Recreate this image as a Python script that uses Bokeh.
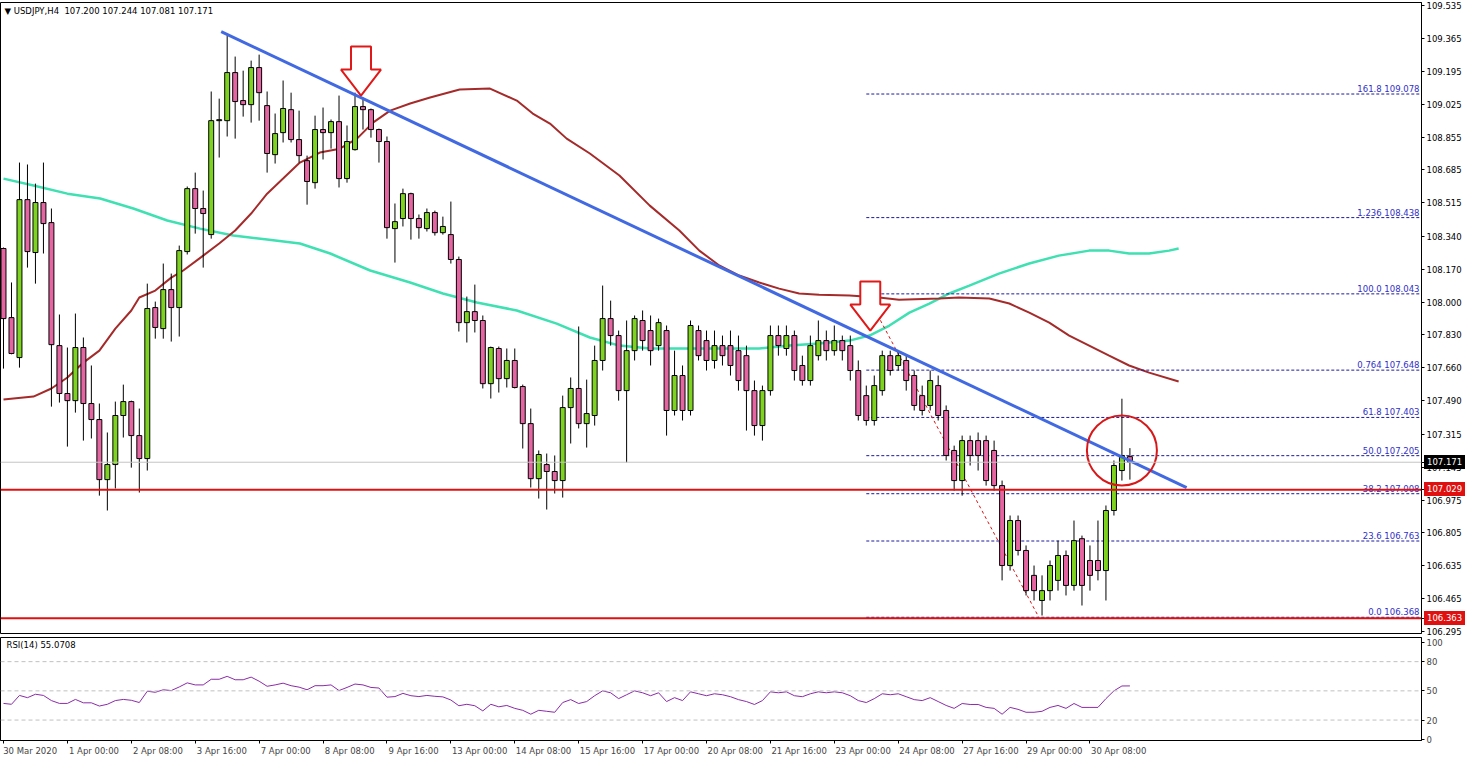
from bokeh.plotting import figure
from bokeh.layouts import column
from bokeh.models import (ColumnDataSource, Range1d, FixedTicker, PrintfTickFormatter,
                          CustomJSTickFormatter, Span, Label, Div)
from bokeh.embed import file_html
from bokeh.resources import INLINE
from bokeh.core.properties import value

# ---------------- data ----------------
symbol = "USDJPY,H4"
last_ohlc = ["107.200", "107.244", "107.081", "107.171"]

opens = [108.278, 107.920, 107.713, 108.531, 108.257, 108.516, 108.412, 107.775, 107.527, 107.490,
         107.765, 107.475, 107.392, 107.081, 107.159, 107.413, 107.485, 107.309, 107.190, 107.972,
         107.863, 108.065, 107.972, 108.262, 108.588, 108.485, 108.350, 108.940, 108.940, 109.189,
         109.044, 109.023, 109.215, 109.018, 108.764, 108.878, 108.997, 108.842, 108.733, 108.619,
         108.894, 108.878, 108.935, 108.640, 108.790, 109.013, 108.997, 108.894, 108.832, 108.381,
         108.433, 108.562, 108.433, 108.381, 108.464, 108.360, 108.350, 108.221, 107.894, 107.951,
         107.905, 107.578, 107.760, 107.604, 107.698, 107.563, 107.371, 107.086, 107.159, 107.123,
         107.076, 107.454, 107.553, 107.371, 107.413, 107.698, 107.915, 107.827, 107.542, 107.749,
         107.905, 107.853, 107.775, 107.853, 107.439, 107.620, 107.439, 107.853, 107.801, 107.698,
         107.775, 107.775, 107.749, 107.723, 107.542, 107.361, 107.542, 107.827, 107.760, 107.827,
         107.672, 107.594, 107.723, 107.801, 107.749, 107.801, 107.775, 107.646, 107.516, 107.387,
         107.542, 107.723, 107.672, 107.698, 107.620, 107.516, 107.465, 107.568, 107.439, 107.232,
         107.076, 107.283, 107.283, 107.283, 107.232, 107.050, 106.636, 106.869, 106.714, 106.585,
         106.455, 106.506, 106.559, 106.688, 106.533, 106.775, 106.662, 106.662, 106.610, 106.921,
         107.128, 107.200]
highs = [108.283, 108.102, 108.723, 108.713, 108.614, 108.723, 108.485, 107.936, 107.765, 107.941,
         107.817, 107.672, 107.475, 107.325, 107.485, 107.573, 107.490, 107.449, 108.096, 108.003,
         108.200, 108.148, 108.293, 108.599, 108.671, 108.578, 109.091, 109.054, 109.381, 109.272,
         109.199, 109.251, 109.282, 109.091, 108.977, 109.148, 109.085, 108.992, 108.759, 108.966,
         109.008, 108.946, 109.070, 108.915, 109.085, 109.060, 109.003, 108.899, 108.858, 108.511,
         108.588, 108.567, 108.454, 108.485, 108.474, 108.443, 108.521, 108.236, 108.029, 108.091,
         107.931, 107.770, 107.770, 107.760, 107.760, 107.573, 107.449, 107.232, 107.216, 107.206,
         107.516, 107.610, 107.874, 107.599, 107.775, 108.086, 108.008, 107.853, 107.905, 107.931,
         107.957, 107.931, 107.915, 107.879, 107.749, 107.672, 107.905, 107.879, 107.853, 107.853,
         107.827, 107.853, 107.827, 107.775, 107.594, 107.568, 107.879, 107.879, 107.879, 107.853,
         107.723, 107.827, 107.905, 107.853, 107.879, 107.827, 107.827, 107.698, 107.568, 107.620,
         107.749, 107.749, 107.749, 107.723, 107.646, 107.568, 107.646, 107.620, 107.465, 107.257,
         107.309, 107.309, 107.325, 107.309, 107.283, 107.076, 106.895, 106.895, 106.740, 106.636,
         106.585, 106.662, 106.765, 106.714, 106.869, 106.791, 106.740, 106.869, 106.947, 107.180,
         107.500, 107.244]
lows = [107.656, 107.730, 107.661, 108.179, 108.096, 108.252, 107.459, 107.480, 107.252, 107.428,
        107.283, 107.294, 106.998, 106.921, 107.035, 107.299, 107.143, 107.014, 107.128, 107.811,
        107.811, 107.796, 107.822, 108.247, 108.355, 108.179, 108.329, 108.749, 108.858, 108.847,
        108.961, 108.930, 108.940, 108.671, 108.718, 108.827, 108.827, 108.723, 108.505, 108.588,
        108.739, 108.795, 108.594, 108.619, 108.785, 108.894, 108.852, 108.723, 108.329, 108.205,
        108.392, 108.324, 108.329, 108.366, 108.345, 108.350, 108.200, 107.848, 107.791, 107.843,
        107.553, 107.501, 107.532, 107.558, 107.553, 107.242, 107.040, 106.983, 106.926, 107.009,
        106.988, 107.268, 107.346, 107.247, 107.361, 107.646, 107.775, 107.490, 107.170, 107.698,
        107.749, 107.672, 107.749, 107.309, 107.413, 107.387, 107.413, 107.698, 107.646, 107.656,
        107.672, 107.620, 107.542, 107.335, 107.309, 107.283, 107.516, 107.723, 107.723, 107.594,
        107.568, 107.568, 107.698, 107.698, 107.723, 107.698, 107.594, 107.387, 107.361, 107.361,
        107.516, 107.620, 107.646, 107.542, 107.439, 107.413, 107.439, 107.387, 107.180, 107.024,
        106.998, 107.154, 107.128, 107.050, 107.024, 106.559, 106.610, 106.688, 106.481, 106.455,
        106.377, 106.455, 106.506, 106.481, 106.506, 106.429, 106.506, 106.559, 106.455, 106.895,
        107.076, 107.081]
closes = [107.915, 107.734, 108.531, 108.262, 108.516, 108.407, 107.780, 107.527, 107.490, 107.765,
          107.475, 107.392, 107.081, 107.159, 107.413, 107.485, 107.309, 107.190, 107.967, 107.869,
          108.065, 107.972, 108.267, 108.588, 108.485, 108.459, 108.940, 108.945, 109.189, 109.039,
          109.023, 109.215, 109.085, 108.770, 108.873, 109.003, 108.842, 108.759, 108.625, 108.894,
          108.878, 108.935, 108.640, 108.832, 109.013, 108.997, 108.894, 108.832, 108.386, 108.417,
          108.562, 108.433, 108.386, 108.464, 108.360, 108.392, 108.221, 107.894, 107.951, 107.905,
          107.578, 107.765, 107.604, 107.698, 107.558, 107.371, 107.086, 107.211, 107.123, 107.076,
          107.454, 107.553, 107.371, 107.423, 107.698, 107.915, 107.827, 107.542, 107.749, 107.915,
          107.801, 107.749, 107.894, 107.439, 107.620, 107.439, 107.879, 107.723, 107.698, 107.775,
          107.723, 107.672, 107.594, 107.542, 107.361, 107.542, 107.827, 107.775, 107.827, 107.646,
          107.594, 107.775, 107.801, 107.749, 107.801, 107.749, 107.646, 107.413, 107.387, 107.568,
          107.723, 107.646, 107.723, 107.594, 107.465, 107.439, 107.594, 107.413, 107.206, 107.076,
          107.283, 107.206, 107.206, 107.076, 107.050, 106.636, 106.869, 106.714, 106.506, 106.506,
          106.506, 106.636, 106.688, 106.533, 106.765, 106.533, 106.585, 106.610, 106.921, 107.154,
          107.206, 107.171]

rsi = [37.1, 36.2, 45.3, 43.0, 46.5, 45.3, 40.0, 37.1, 37.1, 41.2,
       37.7, 37.7, 34.4, 36.2, 40.0, 41.2, 40.3, 38.0, 49.6, 48.5,
       51.1, 50.3, 54.0, 58.2, 56.1, 56.1, 61.9, 61.9, 64.9, 61.4,
       61.4, 64.1, 59.9, 54.7, 56.1, 57.9, 55.3, 53.8, 51.1, 55.3,
       55.3, 56.1, 50.3, 53.5, 57.0, 56.1, 53.5, 52.9, 43.5, 44.1,
       47.4, 45.0, 44.1, 45.3, 44.4, 43.8, 40.6, 34.7, 36.2, 34.7,
       29.4, 36.2, 33.6, 35.0, 32.0, 30.0, 26.0, 30.0, 29.0, 28.0,
       38.0, 41.0, 37.0, 39.0, 45.0, 50.0, 48.0, 42.0, 46.0, 50.0,
       48.0, 45.0, 48.0, 39.0, 43.0, 40.0, 49.0, 47.0, 45.0, 47.0,
       46.0, 44.0, 41.0, 39.0, 36.0, 40.0, 49.0, 48.0, 49.0, 45.0,
       44.0, 47.0, 49.0, 48.0, 49.0, 48.0, 45.0, 40.0, 38.0, 42.0,
       47.0, 46.0, 47.0, 44.0, 41.0, 40.0, 43.0, 39.0, 35.0, 32.0,
       37.0, 36.0, 36.0, 33.0, 32.0, 26.0, 33.0, 31.0, 28.0, 28.0,
       29.0, 33.0, 35.0, 32.0, 37.0, 33.0, 33.0, 33.0, 42.0, 50.0,
       55.0, 55.0708]
rsi_last = "55.0708"

ma_brown_bar = [0, 3.75, 6, 8, 10, 12, 14, 16, 17, 19, 21, 22.5, 25, 27, 29, 31, 33, 35, 37.1,
                39.6, 42.1, 44.25, 46.25, 48.4, 50.9, 53.4, 57.1, 60.9, 64.25, 66.25, 68.4, 70.5,
                73.4, 77.1, 80.9, 84.6, 87.1, 89.6, 92.1, 94.6, 97.1, 99.6, 102.1, 105.9, 109.6,
                112.1, 117.1, 119.6, 123.4, 125.9, 128.4, 130.9, 133.4, 135.9, 138.4, 140.9,
                143.4, 147.1]
ma_brown = [107.496, 107.511, 107.553, 107.610, 107.687, 107.749, 107.863, 107.957, 108.024,
            108.060, 108.127, 108.164, 108.241, 108.304, 108.371, 108.459, 108.562, 108.640,
            108.723, 108.775, 108.795, 108.847, 108.930, 108.992, 109.029, 109.060, 109.101,
            109.106, 109.044, 108.977, 108.925, 108.847, 108.770, 108.656, 108.500, 108.371,
            108.267, 108.190, 108.138, 108.102, 108.070, 108.045, 108.039, 108.034, 108.024,
            108.013, 108.019, 108.024, 108.019, 107.993, 107.946, 107.894, 107.827, 107.775,
            107.723, 107.672, 107.635, 107.589]

ma_teal_bar = [0, 3.75, 8, 12.1, 16.25, 20.5, 24.6, 28.75, 33, 37.1, 40.9, 45.9, 50.9, 55,
               59.25, 64.25, 69.25, 73.4, 77.1, 80.9, 84.6, 89.6, 94.6, 98.4, 102.1, 105.9,
               108.4, 110.9, 113.4, 115.9, 118.4, 120.9, 124.6, 128.4, 132.1, 135.9, 138.4,
               140.9, 143.4, 145.9, 147.1]
ma_teal = [108.640, 108.604, 108.562, 108.537, 108.485, 108.423, 108.381, 108.345, 108.324,
           108.304, 108.252, 108.164, 108.102, 108.045, 107.998, 107.957, 107.889, 107.817,
           107.775, 107.760, 107.760, 107.760, 107.760, 107.775, 107.786, 107.801, 107.827,
           107.879, 107.946, 107.993, 108.045, 108.086, 108.148, 108.200, 108.241, 108.267,
           108.267, 108.252, 108.252, 108.267, 108.278]

time_labels = ["30 Mar 2020", "1 Apr 00:00", "2 Apr 08:00", "3 Apr 16:00", "7 Apr 00:00",
               "8 Apr 08:00", "9 Apr 16:00", "13 Apr 00:00", "14 Apr 08:00", "15 Apr 16:00",
               "17 Apr 00:00", "20 Apr 08:00", "21 Apr 16:00", "23 Apr 00:00", "24 Apr 08:00",
               "27 Apr 16:00", "29 Apr 00:00", "30 Apr 08:00"]
time_label_bars = [0, 8, 16, 24, 32, 40, 48, 56, 64, 72, 80, 88, 96, 104, 112, 120, 128, 136]

price_ticks = [109.535, 109.365, 109.195, 109.025, 108.855, 108.685, 108.515, 108.340, 108.170,
               108.000, 107.830, 107.660, 107.490, 107.315, 107.145, 106.975, 106.805, 106.635,
               106.465, 106.295]
rsi_ticks = [0, 20, 50, 80, 100]
rsi_levels = [20, 50, 80]

support_levels = [107.029, 106.363]
support_texts = ["107.029", "106.363"]
bid_price = 107.171
bid_text = "107.171"

fib_names = ["161.8", "1.236", "100.0", "0.764", "61.8", "50.0", "38.2", "23.6", "0.0"]
fib_prices = [109.078, 108.438, 108.043, 107.648, 107.403, 107.205, 107.008, 106.763, 106.368]
fib_start_bar = 108
fib_swing_bars = [108, 129.6]
fib_swing_prices = [108.043, 106.368]

trend_bars = [27.25, 148.1]
trend_prices = [109.401, 107.040]

arrow_bars = [44.75, 108.5]
arrow_prices = [109.070, 107.853]

circle_bars = [140]
circle_prices = [107.232]

# ---------------- layout constants ----------------
FONT = "DejaVu Sans"
FS = "8.5px"
W = 1464
MAIN_H = 637
MAIN_TOP, MAIN_BOTTOM = 2, 4
RSI_H = 121
RIGHT = 41
PX_BAR = 8.0
GREEN = "#7ED321"
PINK = "#E465A2"

x_start = -3 / PX_BAR
x_end = x_start + (W - RIGHT) / PX_BAR
y_lo, y_hi = 106.284, 109.552
px_price = (MAIN_H - MAIN_TOP - MAIN_BOTTOM) / (y_hi - y_lo)

xr = Range1d(x_start, x_end)

# ---------------- main price chart ----------------
p = figure(width=W, height=MAIN_H, x_range=xr, y_range=Range1d(y_lo, y_hi),
           output_backend="svg", toolbar_location=None,
           x_axis_location=None, y_axis_location="right",
           min_border_left=0, min_border_right=RIGHT, min_border_top=MAIN_TOP,
           min_border_bottom=MAIN_BOTTOM)
p.grid.visible = False
p.outline_line_color = "black"
p.outline_line_alpha = 1
p.background_fill_color = "white"
p.border_fill_color = "white"

ya = p.yaxis[0]
ya.ticker = FixedTicker(ticks=price_ticks + [bid_price] + support_levels)
ya.formatter = PrintfTickFormatter(format="%.3f")
ya.major_tick_out = 3
ya.major_tick_in = 0
ya.minor_tick_out = 0
ya.minor_tick_in = 0
ya.major_label_standoff = 2
ya.major_label_text_font = FONT
ya.major_label_text_font_size = FS
ya.major_label_text_color = "black"
ya.axis_line_color = "black"

# moving averages
p.line(ma_teal_bar, ma_teal, line_color="#3FE0B2", line_width=2.5)
p.line(ma_brown_bar, ma_brown, line_color="#A52A2A", line_width=2)

# horizontal lines
p.add_layout(Span(location=bid_price, dimension="width", line_color="#c4c4c4", line_width=1))
for lv in support_levels:
    p.add_layout(Span(location=lv, dimension="width", line_color="#E01010", line_width=2))

# fibonacci
fib_src = ColumnDataSource(dict(
    x0=[fib_start_bar] * len(fib_prices), x1=[x_end] * len(fib_prices),
    y=fib_prices, label=[f"{n} {v:.3f}" for n, v in zip(fib_names, fib_prices)],
    xt=[x_end] * len(fib_prices)))
p.segment(x0="x0", y0="y", x1="x1", y1="y", source=fib_src, line_color="#1a1aa0",
          line_width=1, line_dash="3 2")
p.text(x="xt", y="y", text="label", source=fib_src, text_align="right",
       text_baseline="bottom", x_offset=-2, text_font=value(FONT), text_font_size=FS,
       text_color="#3030c8")
p.line(fib_swing_bars, fib_swing_prices, line_color="#E01010", line_width=1, line_dash="3 3")

# candles
n = len(opens)
bars = list(range(n))
csrc = ColumnDataSource(dict(
    x=bars, high=highs, low=lows,
    top=[max(o, c) for o, c in zip(opens, closes)],
    bottom=[min(o, c) for o, c in zip(opens, closes)],
    color=[GREEN if c >= o else PINK for o, c in zip(opens, closes)]))
p.segment(x0="x", y0="high", x1="x", y1="low", source=csrc, line_color="black", line_width=1)
p.vbar(x="x", width=0.62, top="top", bottom="bottom", source=csrc, fill_color="color",
       line_color="black", line_width=1)

# trend line
p.line(trend_bars, trend_prices, line_color="#4169E1", line_width=3)

# arrows (outline shape in pixels relative to tip)
shape_px = [(0, 0), (-20, -26), (-10, -26), (-10, -49), (10, -49), (10, -26), (20, -26)]
axs, ays = [], []
for b, pr in zip(arrow_bars, arrow_prices):
    axs.append([b + dx / PX_BAR for dx, dy in shape_px])
    ays.append([pr - dy / px_price for dx, dy in shape_px])
p.patches(axs, ays, fill_color="white", fill_alpha=1, line_color="#E01818", line_width=2)

# circle
p.scatter(circle_bars, circle_prices, marker="circle", size=70, fill_alpha=0,
          line_color="#D81818", line_width=2)

# title
p.add_layout(Label(x=x_start, y=y_hi - 3 / px_price, x_offset=4,
                   text="\u25bc " + symbol + "\u00a0 " + " ".join(last_ohlc),
                   text_font=FONT, text_font_size=FS, text_baseline="top", text_color="black"))

# ---------------- RSI panel ----------------
r_lo, r_hi = -1.0, 104.8
r = figure(width=W, height=RSI_H, x_range=xr, y_range=Range1d(r_lo, r_hi),
           output_backend="svg", toolbar_location=None, y_axis_location="right",
           min_border_left=0, min_border_right=RIGHT, min_border_top=0)
r.grid.visible = False
r.outline_line_color = "black"
r.background_fill_color = "white"
r.border_fill_color = "white"

ra = r.yaxis[0]
ra.ticker = FixedTicker(ticks=rsi_ticks)
ra.formatter = PrintfTickFormatter(format="%d")
ra.major_tick_out = 3
ra.major_tick_in = 0
ra.minor_tick_out = 0
ra.minor_tick_in = 0
ra.major_label_standoff = 2
ra.major_label_text_font = FONT
ra.major_label_text_font_size = FS
ra.axis_line_color = "black"

label_centers = [b + (3 + len(t) * 4.3 / 2) / PX_BAR for b, t in zip(time_label_bars, time_labels)]
xa = r.xaxis[0]
xa.ticker = FixedTicker(ticks=label_centers, minor_ticks=time_label_bars)
xa.formatter = CustomJSTickFormatter(args=dict(c=label_centers, t=time_labels), code="""
    for (let i = 0; i < c.length; i++) { if (Math.abs(c[i] - tick) < 1e-6) return t[i]; }
    return "";
""")
xa.major_tick_out = 0
xa.major_tick_in = 0
xa.minor_tick_out = 3
xa.minor_tick_in = 0
xa.minor_tick_line_color = "black"
xa.major_label_standoff = 2
xa.major_label_text_font = FONT
xa.major_label_text_font_size = FS
xa.axis_line_color = "black"

for lv in rsi_levels:
    r.add_layout(Span(location=lv, dimension="width", line_color="#c0c0c0", line_width=1,
                      line_dash="4 3"))
r.line(bars, rsi, line_color="#8B2BA8", line_width=1)
r.add_layout(Label(x=x_start, y=r_hi - 3 * (r_hi - r_lo) / 107, x_offset=6,
                   text="RSI(14) " + rsi_last, text_font=FONT, text_font_size=FS,
                   text_baseline="top", text_color="black"))

# price boxes on the price scale (HTML overlays positioned from the price scale)
boxes = []
for v, t, bg in [(bid_price, bid_text, "black")] + [(lv, tx, "#E01010") for lv, tx in zip(support_levels, support_texts)]:
    top_px = MAIN_TOP + (y_hi - v) * px_price - 7
    boxes.append(Div(text=t, width=41, height=14, styles={
        "position": "absolute", "left": f"{W - RIGHT + 1}px", "top": f"{top_px:.1f}px",
        "background-color": bg, "color": "white", "font-family": FONT, "font-size": FS,
        "line-height": "14px", "padding-left": "3px", "box-sizing": "border-box",
        "margin": "0", "overflow": "hidden", "z-index": "10"}))

layout = column(p, r, *boxes, spacing=0)
open("out.html", "w").write(file_html(layout, INLINE))
